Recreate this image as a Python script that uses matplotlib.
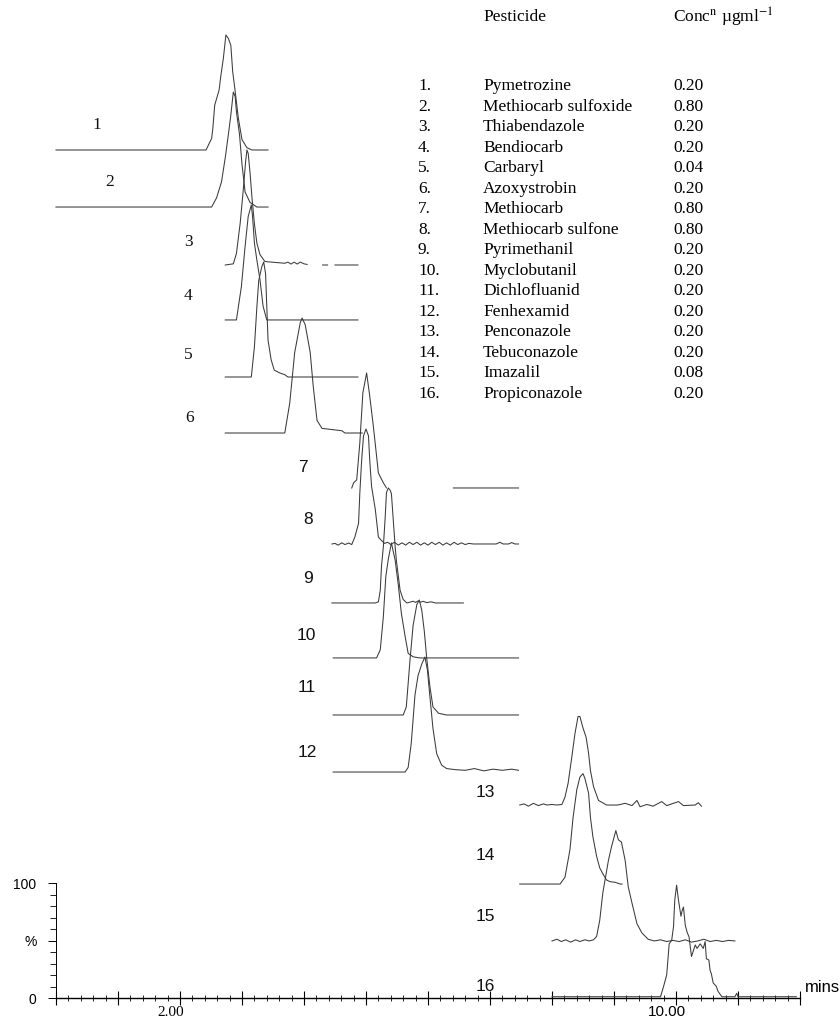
import matplotlib.pyplot as plt
import numpy as np

plt.rcParams['mathtext.fontset'] = 'stix'

nan = np.nan

# table
pesticides = ['Pymetrozine', 'Methiocarb sulfoxide', 'Thiabendazole', 'Bendiocarb',
              'Carbaryl', 'Azoxystrobin', 'Methiocarb', 'Methiocarb sulfone',
              'Pyrimethanil', 'Myclobutanil', 'Dichlofluanid', 'Fenhexamid',
              'Penconazole', 'Tebuconazole', 'Imazalil', 'Propiconazole']
concs = ['0.20', '0.80', '0.20', '0.20', '0.04', '0.20', '0.80', '0.80',
         '0.20', '0.20', '0.20', '0.20', '0.20', '0.20', '0.08', '0.20']

# chromatogram traces: retention time (min) and relative intensity (%)
rt_01 = [0.0, 2.42, 2.51, 2.53, 2.56, 2.63, 2.66, 2.70, 2.74, 2.78, 2.82, 2.85, 2.89, 2.94, 3.00, 3.08, 3.16, 3.42]
pct_01 = [0, 0, 10, 19, 39, 52, 65, 80, 100, 97, 91, 68, 51, 28, 9, 2, 0, 0]

rt_02 = [0.0, 2.51, 2.59, 2.67, 2.73, 2.78, 2.82, 2.86, 2.89, 2.91, 2.96, 3.00, 3.05, 3.13, 3.24, 3.42]
pct_02 = [0, 0, 8, 22, 43, 63, 80, 100, 96, 83, 63, 37, 13, 4, 0, 0]

rt_03 = [2.73, 2.86, 2.91, 2.97, 3.02, 3.06, 3.08, 3.10, 3.13, 3.16, 3.20, 3.24, 3.29, 3.37, 3.69,
         3.74, 3.79, 3.84, 3.89, 3.94, 4.00, 4.05, nan, 4.30, 4.38, nan, 4.50, 4.87]
pct_03 = [0, 1, 10, 36, 65, 91, 100, 97, 80, 59, 36, 19, 9, 3, 1.5,
          2.5, 0.8, 2.5, 0.8, 2.5, 1, 0.5, nan, 0, 0, nan, 0, 0]

rt_04 = [2.73, 2.91, 2.99, 3.05, 3.10, 3.15, 3.17, 3.20, 3.24, 3.29, 3.34, 3.40, 4.87]
pct_04 = [0, 0, 29, 64, 90, 100, 90, 67, 52, 35, 12, 0, 0]

rt_05 = [2.73, 3.15, 3.20, 3.24, 3.27, 3.32, 3.35, 3.38, 3.40, 3.42, 3.47, 3.52, 3.61, 3.69, 3.74, 4.87]
pct_05 = [0, 0, 26, 61, 84, 96, 100, 90, 61, 32, 15, 6, 3.5, 2, 0, 0]

rt_06 = [2.73, 3.69, 3.77, 3.85, 3.94, 3.97, 4.02, 4.10, 4.15, 4.21, 4.29, 4.61, 4.66, 4.94]
pct_06 = [0, 0, 26, 70, 96, 100, 94, 70, 40, 11, 4, 2, 0, 0]

rt_07 = [4.77, 4.80, 4.85, 4.90, 4.95, 5.01, 5.06, 5.12, 5.20, 5.28, 5.33, nan, 6.41, 7.46]
pct_07 = [0, 4.5, 7, 39, 83, 100, 80, 53, 13, 4.5, 0, nan, 0, 0]

rt_08 = [4.45, 4.50, 4.55, 4.61, 4.66, 4.72, 4.77,
         4.82, 4.88, 4.90, 4.93, 4.96, 5.00, 5.04, 5.06, 5.09, 5.15, 5.20,
         5.25, 5.30, 5.35, 5.40, 5.46, 5.52, 5.58, 5.64, 5.70, 5.76, 5.82, 5.88, 5.94,
         6.00, 6.06, 6.12, 6.18, 6.24, 6.30, 6.36, 6.42, 6.48, 6.54, 6.60, 6.66, 6.73,
         7.10, 7.16, 7.21, 7.30, 7.35, 7.40, 7.46]
pct_08 = [0, 0.5, -1, 1, -0.5, 0.8, -0.5,
          6, 18, 44, 73, 94, 100, 94, 73, 50, 30, 6,
          3, 0.5, 1.5, -0.5, 1.5, -1, 1, -1, 1.5, -0.5, 1.5, -1, 1,
          -1, 1.5, -0.5, 1.5, -1, 1, -1, 1.5, -0.5, 1, -0.5, 0.5, 0,
          0, 1.5, 0, 0, 1.2, 0, 0]

rt_09 = [4.45, 5.15, 5.20, 5.23, 5.25, 5.28, 5.31, 5.33, 5.36, 5.39, 5.41, 5.44, 5.47, 5.49, 5.55, 5.60, 5.66,
         5.76, 5.80, 5.84, 5.88, 5.92, 5.98, 6.05, 6.12, 6.57]
pct_09 = [0, 0, 1, 11, 32, 49, 75, 96, 100, 98, 95, 72, 49, 37, 11, 3, 0,
          1.5, 0.5, 1.8, 0.6, 1.5, 0.3, 1.0, 0, 0]

rt_10 = [4.47, 5.17, 5.23, 5.28, 5.32, 5.36, 5.41, 5.47, 5.52, 5.57, 5.63, 5.68, 5.76, 5.87, 7.46]
pct_10 = [0, 0, 7, 36, 71, 86, 100, 85, 64, 39, 19, 4, 1, 0, 0]

rt_11 = [4.47, 5.60, 5.65, 5.71, 5.76, 5.82, 5.86, 5.90, 5.94, 5.98, 6.03, 6.08, 6.17, 6.30, 7.46]
pct_11 = [0, 0, 7, 48, 78, 96, 100, 91, 73, 49, 25, 7, 1.5, 0, 0]

rt_12 = [4.47, 5.63, 5.68, 5.73, 5.79, 5.84, 5.90, 5.95, 5.99, 6.03, 6.08, 6.14, 6.22, 6.30,
         6.45, 6.60, 6.75, 6.90, 7.05, 7.20, 7.35, 7.46]
pct_12 = [0, 0, 4, 25, 67, 84, 94, 100, 89, 66, 38, 16, 6, 3,
          2, 1.5, 3, 1, 2.5, 1.5, 2.5, 1.5]

rt_13 = [7.48, 7.55, 7.62, 7.70, 7.78, 7.86, 7.92, 8.00, 8.08,
         8.16, 8.21, 8.26, 8.32, 8.37, 8.42, 8.45, 8.50, 8.55, 8.59, 8.62, 8.67, 8.75,
         8.88, 9.06, 9.18, 9.29, 9.37, 9.42, 9.53, 9.63, 9.77, 9.85, 10.04, 10.12, 10.31, 10.36, 10.41]
pct_13 = [0, 1, -1, 1.5, -0.5, 1, 0, 0.5, 0,
          0.5, 7, 19, 42, 62, 77, 77, 67, 59, 45, 30, 16, 4,
          0, 0, 1.5, -0.5, 4, -1.5, 0.5, -1, 3, -0.5, 3, -0.5, 0, 2, -1]

rt_14 = [7.48, 8.13, 8.21, 8.29, 8.34, 8.40, 8.45, 8.50, 8.53, 8.59, 8.62, 8.66, 8.72, 8.77,
         8.83, 8.88, 8.94, 9.02, 9.10, 9.13]
pct_14 = [0, 0, 6, 30, 58, 82, 93, 96, 92, 79, 58, 41, 24, 14, 8, 3.5, 2, 1.5, 0, 0]

rt_15 = [8.00, 8.08, 8.15, 8.22, 8.30, 8.38, 8.45, 8.53, 8.60,
         8.67, 8.72, 8.77, 8.82, 8.91, 8.96, 9.03, 9.07, 9.12, 9.18, 9.23, 9.29, 9.37, 9.45, 9.55,
         9.65, 9.75, 9.85, 9.95, 10.05, 10.15, 10.25, 10.35, 10.45, 10.55, 10.65, 10.75, 10.85, 10.95]
pct_15 = [0, 1.5, -0.5, 1, -1, 1, -0.5, 1, 0,
          1, 4, 18, 42, 70, 82, 96, 88, 86, 70, 47, 33, 15, 7, 1.5,
          0, 1, -0.5, 0.5, -0.5, 1, -1, 0, 1.5, -0.5, 0.5, -0.5, 0.5, 0]

rt_16 = [8.00, 9.75, 9.80, 9.85, 9.89, 9.93, 9.96, 9.98, 10.01, 10.04,
         10.08, 10.10, 10.12, 10.15, 10.18, 10.21, 10.25, 10.31, 10.34, 10.39,
         10.44, 10.47, 10.49, 10.53, 10.55, 10.57, 10.60, 10.65, 10.68, 10.74,
         10.95, 10.98, 11.00, 11.94]
pct_16 = [0, 0, 9, 19, 46, 49, 61, 84, 97, 84,
          70, 75, 78, 62, 56, 52, 35, 45, 42, 46,
          42, 48, 33, 32, 23, 20, 12, 9, 4.5, 0,
          0, 3, 0, 0]

traces = [(rt_01, pct_01), (rt_02, pct_02), (rt_03, pct_03), (rt_04, pct_04),
          (rt_05, pct_05), (rt_06, pct_06), (rt_07, pct_07), (rt_08, pct_08),
          (rt_09, pct_09), (rt_10, pct_10), (rt_11, pct_11), (rt_12, pct_12),
          (rt_13, pct_13), (rt_14, pct_14), (rt_15, pct_15), (rt_16, pct_16)]

# layout: stacking offset of each trace (in % units) and label anchor (min, %)
offsets = [737.4, 687.8, 637.4, 589.6, 540.0, 491.3, 443.5, 394.8,
           343.5, 295.7, 246.1, 196.5, 167.8, 99.1, 49.6, 1.1]
label_x = [0.66, 0.87, 2.13, 2.13, 2.13, 2.16, 3.98, 4.06,
           4.06, 4.03, 4.05, 4.05, 6.92, 6.92, 6.92, 6.92]
label_y = [759.1, 709.6, 657.4, 610.4, 559.1, 504.3, 461.7, 415.7,
           365.2, 314.8, 269.6, 213.9, 178.3, 123.5, 71.3, 9.6]

W, H = 840, 1021
fig = plt.figure(figsize=(W / 100, H / 100), dpi=100)
ax = fig.add_axes([0, 0, 1, 1])
ax.set_xlim(-56 / 62, (W - 56) / 62)
ax.set_ylim(-23 / 1.15, 998 / 1.15)

line_col = '#3a3a3a'
for (t, p), off in zip(traces, offsets):
    ax.plot(t, np.asarray(p, float) + off, color=line_col, lw=0.75)

for k in range(16):
    fam = 'Liberation Serif' if k < 6 else 'Liberation Sans'
    ax.text(label_x[k], label_y[k], str(k + 1), ha='center', va='center',
            fontsize=12.5, family=fam, color='#111111')

# axes
for s in ['top', 'right']:
    ax.spines[s].set_visible(False)
ax.spines['bottom'].set_position(('data', 0))
ax.spines['left'].set_position(('data', 0))
ax.spines['bottom'].set_bounds(0, 12)
ax.spines['left'].set_bounds(0, 100)
ax.spines['bottom'].set_linewidth(1.0)
ax.spines['left'].set_linewidth(0.7)

ax.set_xticks(np.arange(0, 13, 1))
ax.set_xticklabels([])
ax.set_xticks(np.arange(0, 12.01, 0.2), minor=True)
ax.tick_params(axis='x', which='major', direction='inout', length=10, width=0.8)
ax.tick_params(axis='x', which='minor', direction='inout', length=5, width=0.6)
# the time labels sit a little left of their ticks in the original
ax.text(2 - 0.15, -12.5, '2.00', ha='center', va='center', fontsize=11, family='Liberation Serif')
ax.text(10 - 0.15, -12.5, '10.00', ha='center', va='center', fontsize=11, family='Liberation Sans')

ax.set_yticks([0, 50, 100])
ax.set_yticklabels(['0', '%', '100'])
ax.set_yticks(np.arange(0, 101, 10), minor=True)
ax.tick_params(axis='y', which='major', direction='out', length=6, width=0.7, labelsize=10, pad=8)
ax.tick_params(axis='y', which='minor', direction='out', length=4, width=0.6)
for lbl in ax.get_yticklabels():
    lbl.set_family('Liberation Sans')

fig.text(805 / W, 1 - 987 / H, 'mins', ha='left', va='center', fontsize=12, family='Liberation Sans')

# table of pesticides
serif = 'Liberation Serif'
fig.text(483 / W, 1 - 17 / H, 'Pesticide', ha='left', va='center', fontsize=12.5, family=serif)
fig.text(673 / W, 1 - 17 / H, r'Conc$^{\mathrm{n}}$ µgml$^{\mathrm{-1}}$', ha='left', va='center',
         fontsize=12.5, family=serif)
for i, (name, c) in enumerate(zip(pesticides, concs)):
    y = 1 - (86 + i * 20.53) / H
    fig.text(418 / W, y, f'{i + 1}.', ha='left', va='center', fontsize=12.5, family=serif)
    fig.text(483 / W, y, name, ha='left', va='center', fontsize=12.5, family=serif)
    fig.text(673 / W, y, c, ha='left', va='center', fontsize=12.5, family=serif)

fig.savefig('out.png', dpi=100)
